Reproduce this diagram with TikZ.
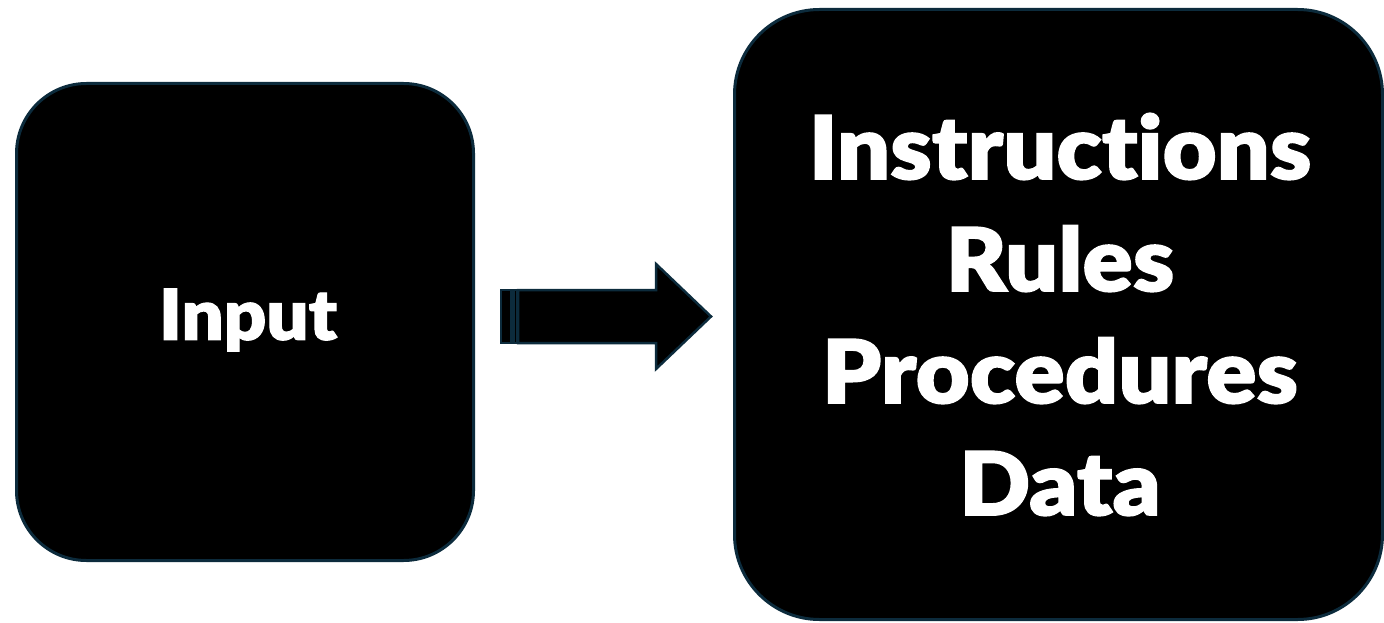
\documentclass[tikz,border=0pt]{standalone}
\usepackage{fontspec}
\newfontfamily\heavy[Ligatures=NoCommon, FakeBold=1.6, FakeStretch=1.06]{Lato Black}
\definecolor{edge}{HTML}{0C2B3C}
\tikzset{
  box/.style={draw=edge, line width=3pt, fill=black, rounded corners=#1, inner sep=0pt},
  label/.style={text=white, align=center, inner sep=0pt},
  arrowbody/.style={draw=edge, line width=2.5pt, fill=black, line join=miter},
}
\begin{document}
\begin{tikzpicture}[x=1pt,y=-1pt]
\useasboundingbox[fill=white] (0,0) rectangle (1384,623);
\node[box=70pt, minimum width=457pt, minimum height=477pt] (inp) at (245,322) {};
\node[label, font=\heavy\fontsize{70}{80}\selectfont] (inptext) at (248,320) {Input};
\node[box=85pt, minimum width=648pt, minimum height=610pt] (proc) at (1058.5,314.5) {};
\node[label, font=\heavy\fontsize{88}{112}\selectfont] (proctext) at (1060,314.5) {Instructions\\Rules\\Procedures\\Data};
\coordinate (tip) at (711,316.5);
\draw[arrowbody] (501,290) rectangle (511,343);
\draw[arrowbody] (513.5,290) rectangle (517,343);
\draw[arrowbody] (518,290) -- (656,290) -- (656,264) -- (tip) -- (656,369) -- (656,343) -- (518,343) -- cycle;
\end{tikzpicture}
\end{document}
